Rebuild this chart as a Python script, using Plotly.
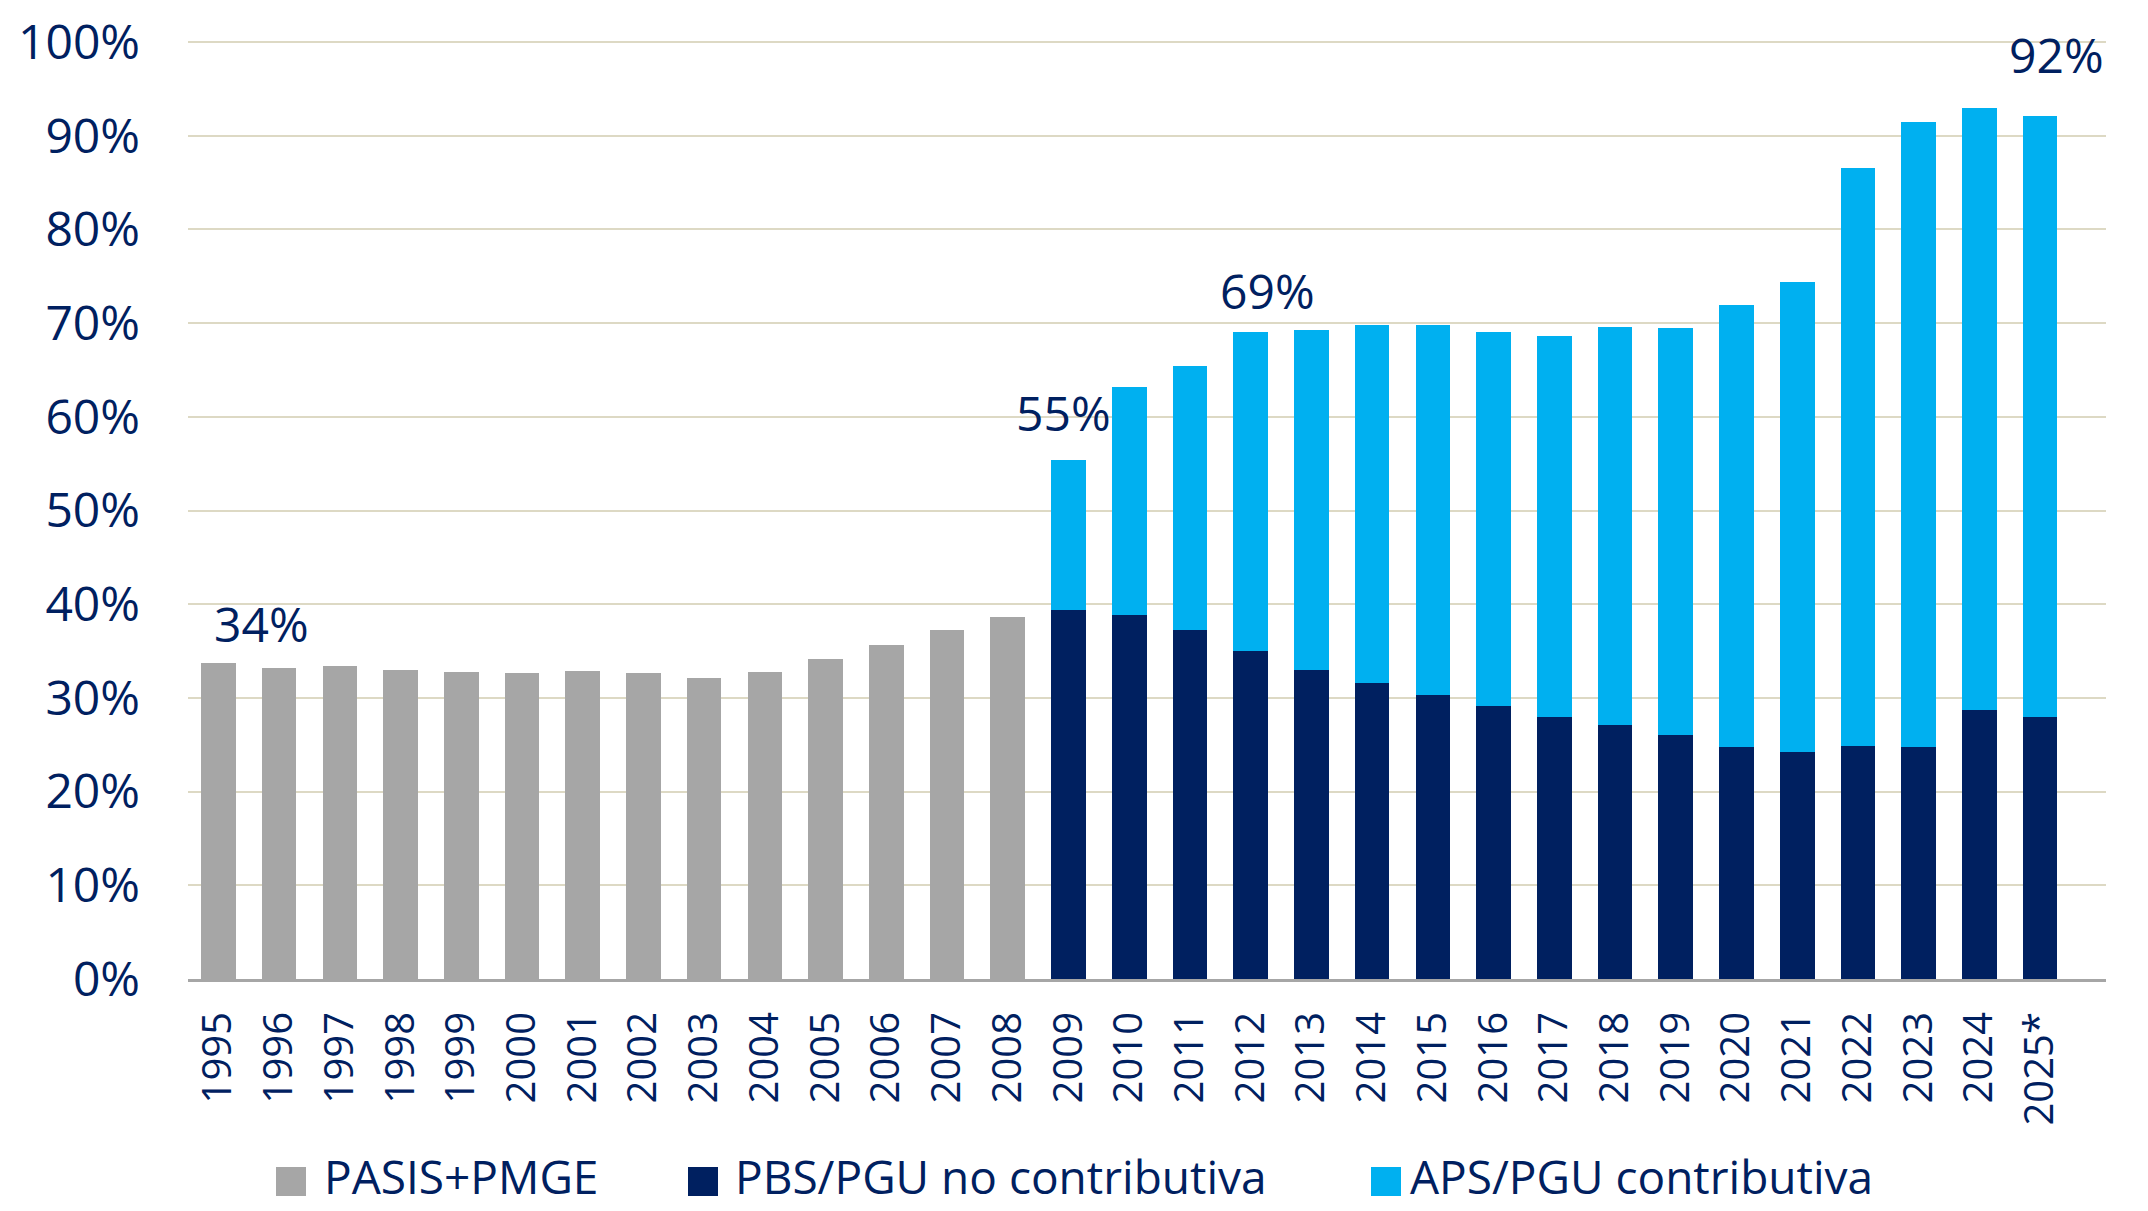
import plotly.graph_objects as go

years = ["1995", "1996", "1997", "1998", "1999", "2000", "2001", "2002", "2003", "2004",
         "2005", "2006", "2007", "2008", "2009", "2010", "2011", "2012", "2013", "2014",
         "2015", "2016", "2017", "2018", "2019", "2020", "2021", "2022", "2023", "2024", "2025*"]

pasis_pmge = [33.7, 33.2, 33.4, 33.0, 32.8, 32.7, 32.9, 32.7, 32.1, 32.8,
              34.2, 35.6, 37.3, 38.6] + [None] * 17

pbs_pgu_nc = [None] * 14 + [39.4, 38.9, 37.3, 35.0, 33.0, 31.6, 30.3, 29.1, 28.0, 27.1,
                            26.0, 24.8, 24.2, 24.9, 24.8, 28.7, 28.0]

aps_pgu_c = [None] * 14 + [16.0, 24.3, 28.1, 34.0, 36.3, 38.2, 39.5, 39.9, 40.6, 42.5,
                           43.5, 47.1, 50.2, 61.7, 66.7, 64.3, 64.1]

y_tick_values = [0, 10, 20, 30, 40, 50, 60, 70, 80, 90, 100]
y_tick_labels = ["0%", "10%", "20%", "30%", "40%", "50%", "60%", "70%", "80%", "90%", "100%"]

series_names = ["PASIS+PMGE", "PBS/PGU no contributiva", "APS/PGU contributiva"]
series_colors = ["#A6A6A6", "#002060", "#00B0F0"]

# highlighted totals: (year index, x offset, y position of label)
highlights = [(0, 0.71, 37.9), (14, -0.08, 60.5), (17, 0.27, 73.5), (30, 0.27, 98.7)]

TEXT = "#002060"
FONT = "Open Sans"

fig = go.Figure()
for name, vals, col in zip(series_names, [pasis_pmge, pbs_pgu_nc, aps_pgu_c], series_colors):
    fig.add_trace(go.Bar(x=years, y=vals, name=name, marker_color=col,
                         marker_line_width=0, showlegend=False))

def total(i):
    return sum(v[i] for v in (pasis_pmge, pbs_pgu_nc, aps_pgu_c) if v[i] is not None)

for idx, dx, ypos in highlights:
    fig.add_annotation(x=idx + dx, y=ypos, xref="x", yref="y",
                       text=f"{round(total(idx))}%", showarrow=False,
                       font=dict(family=FONT, size=48, color=TEXT),
                       xanchor="center", yanchor="middle")

# page is offset by the 8px body margin; figure is sized to compensate
OFF = 8
W, H = 2148 - OFF, 1211 - OFF
Y0_PAGE, Y100_PAGE = 979, 42           # where 0% and 100% sit on the page
SCALE = (Y0_PAGE - Y100_PAGE) / 100.0  # px per percentage point
T = 30
YMAX = 100 + (Y100_PAGE - OFF - T) / SCALE
L, R, B = 188 - OFF, 42, H - (Y0_PAGE - OFF)
PW, PH = W - L - R, H - T - B

def px(X):  # page x -> paper
    return (X - OFF - L) / PW

def py(Y):  # page y -> paper
    return (H - B - (Y - OFF)) / PH

legend_items = [(276, 322), (688, 733), (1371, 1408)]
for (sx, tx), name, col in zip(legend_items, series_names, series_colors):
    fig.add_shape(type="rect", xref="paper", yref="paper",
                  x0=px(sx), x1=px(sx + 30), y0=py(1196), y1=py(1167),
                  fillcolor=col, line_width=0)
    fig.add_annotation(x=px(tx), y=py(1209), xref="paper", yref="paper",
                       text=name, showarrow=False, xanchor="left", yanchor="bottom",
                       font=dict(family=FONT, size=46, color=TEXT))

fig.update_layout(
    barmode="stack",
    bargap=0.43,
    width=W, height=H,
    margin=dict(l=L, r=R, t=T, b=B, pad=0),
    plot_bgcolor="white", paper_bgcolor="white",
    font=dict(family=FONT, color=TEXT),
    showlegend=False,
)
fig.update_yaxes(range=[0, YMAX], tickmode="array", tickvals=y_tick_values,
                 ticktext=y_tick_labels,
                 showgrid=True, gridcolor="#DDD9C4", gridwidth=2, zeroline=False,
                 tickfont=dict(family=FONT, size=48, color=TEXT),
                 ticks="", ticklabelstandoff=47, ticklabeloverflow="allow",
                 automargin=False)
fig.update_xaxes(type="category", tickangle=-90, showline=True, linecolor="#A6A6A6",
                 linewidth=3, tickfont=dict(family=FONT, size=40, color=TEXT),
                 ticks="", ticklabelstandoff=14, automargin=False, showgrid=False)

fig.write_html("out.html")
